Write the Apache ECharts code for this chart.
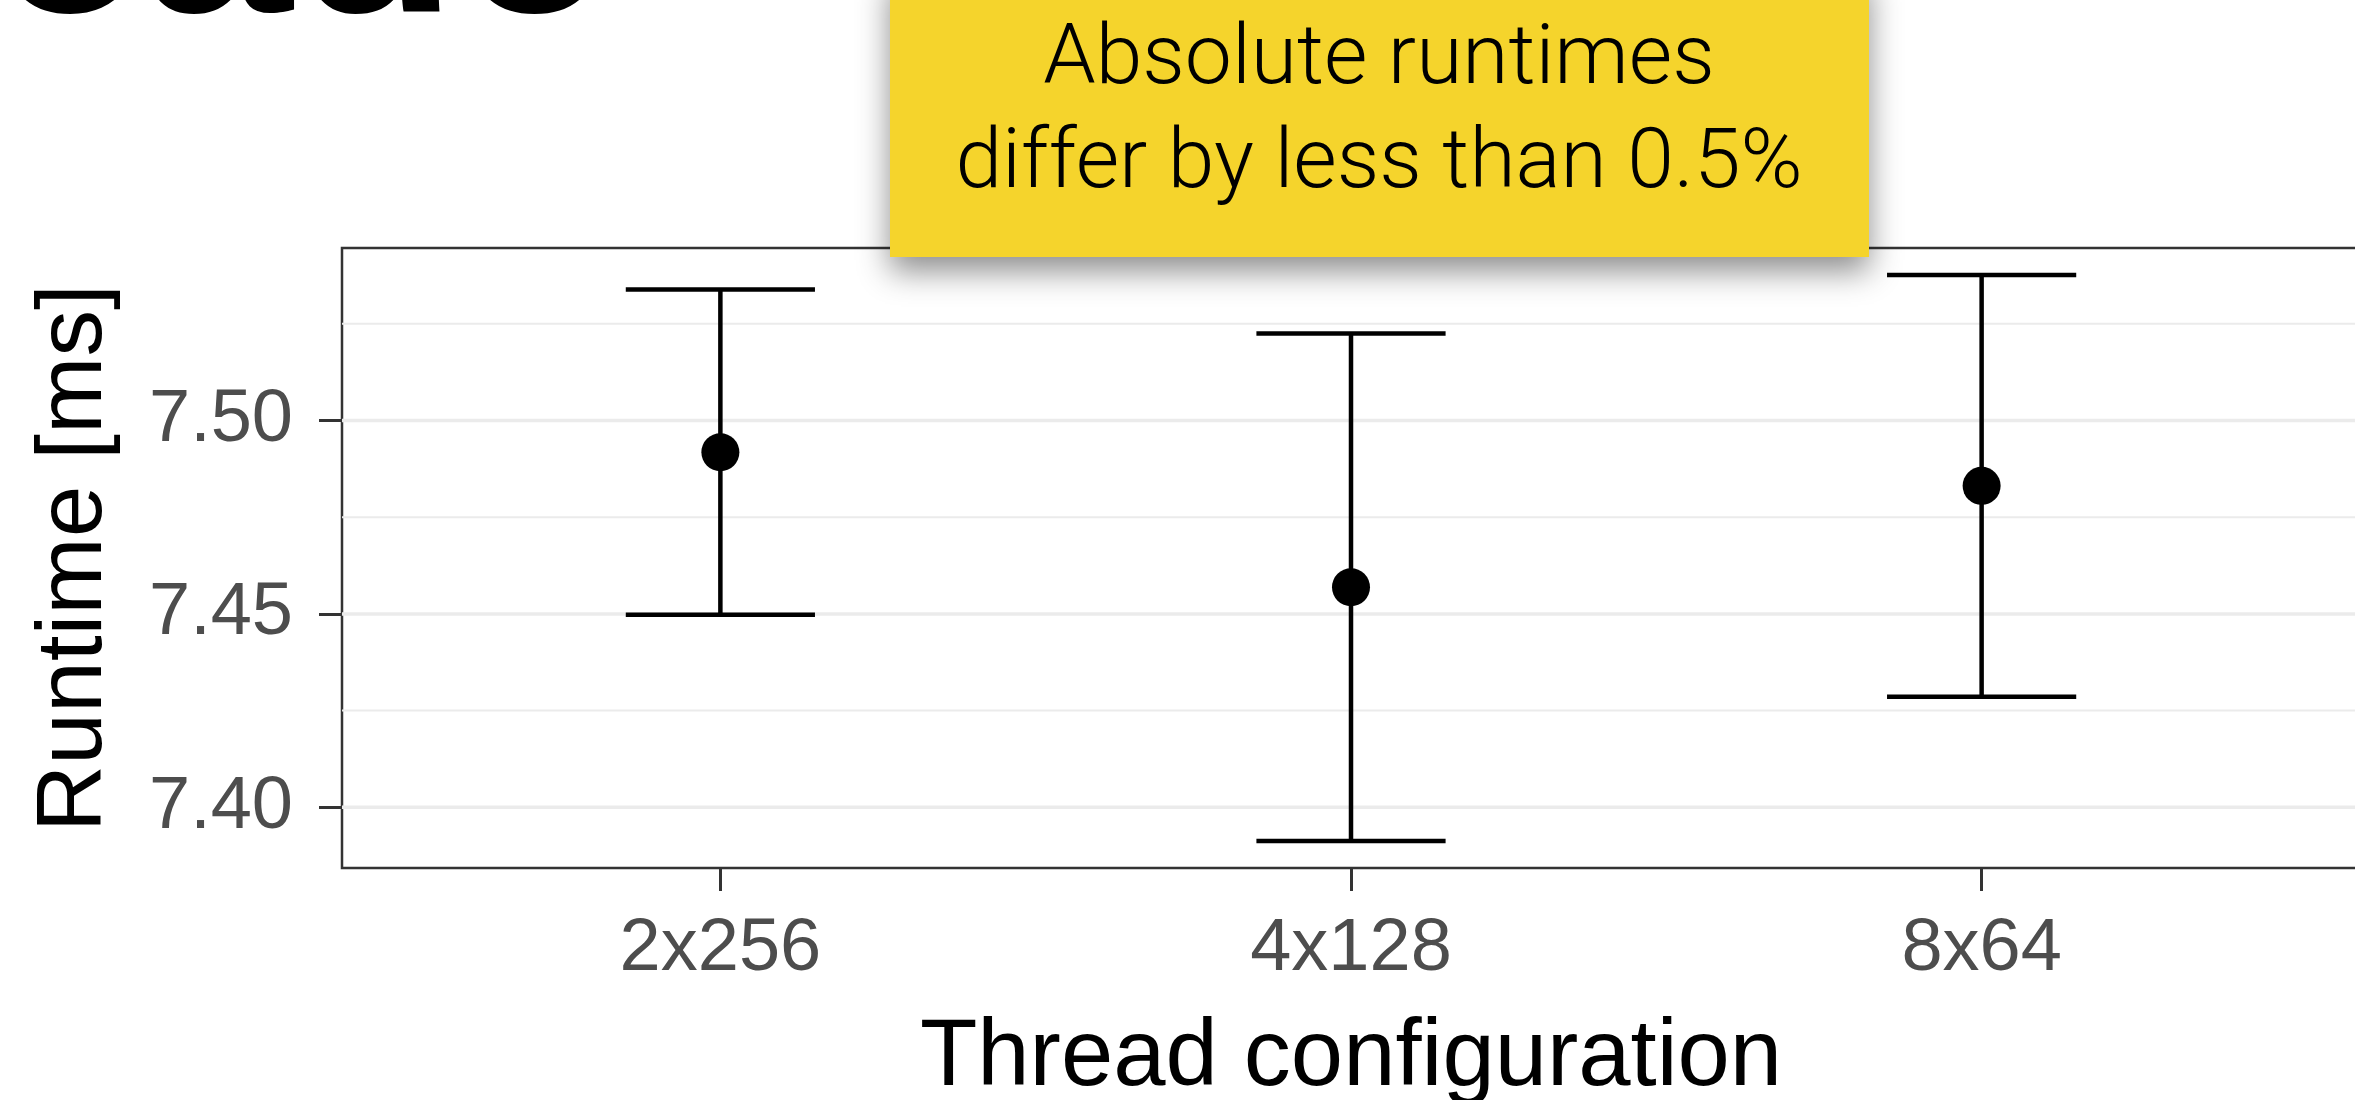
<!DOCTYPE html>
<html>
<head>
<meta charset="utf-8">
<script src="https://cdn.jsdelivr.net/npm/echarts@6/dist/echarts.min.js"></script>
<style>
    html, body { margin: 0; padding: 0; background: #fff; }
    #chart { width: 2355px; height: 1100px; }
</style>
</head>
<body>
<div id="chart"></div>
<script>
    // data
    var categories = ['2x256', '4x128', '8x64'];
    var meanRuntime = [7.4918, 7.4569, 7.4831];
    var lowerBound = [7.4498, 7.3913, 7.4286];
    var upperBound = [7.5339, 7.5225, 7.5376];
    var yTicks = [7.40, 7.45, 7.50];
    var yMinorTicks = [7.425, 7.475, 7.525];
    var xTicks = [1, 2, 3];

    var chart = echarts.init(document.getElementById('chart'));

    var points = [];
    var bars = [];
    for (var i = 0; i < categories.length; i++) {
        points.push([i + 1, meanRuntime[i]]);
        bars.push([i + 1, lowerBound[i], upperBound[i]]);
    }
    var gridLines = [];
    yTicks.forEach(function (v) { gridLines.push([v, 3.5]); });
    yMinorTicks.forEach(function (v) { gridLines.push([v, 2]); });

    var font = 'Liberation Sans';

    var option = {
        backgroundColor: '#fff',
        animation: false,
        grid: {
            left: 342,
            right: -5,
            top: 248,
            bottom: 232,
            outerBoundsMode: 'none',
            containLabel: false,
            show: true,
            borderColor: '#333',
            borderWidth: 2.5,
            backgroundColor: 'transparent'
        },
        xAxis: {
            type: 'value',
            min: 0.4,
            max: 3.6,
            name: 'Thread configuration',
            nameLocation: 'middle',
            nameGap: 144,
            nameTextStyle: { color: '#000', fontSize: 94, fontFamily: font },
            axisLine: { show: false },
            splitLine: { show: false },
            axisTick: {
                show: true,
                length: 23,
                customValues: xTicks,
                lineStyle: { color: '#333', width: 3 }
            },
            axisLabel: {
                customValues: xTicks,
                margin: 45,
                color: '#4d4d4d',
                fontSize: 74,
                fontFamily: font,
                formatter: function (v) { return categories[Math.round(v) - 1]; }
            }
        },
        yAxis: {
            type: 'value',
            min: 7.3843,
            max: 7.5446,
            name: 'Runtime [ms]',
            nameLocation: 'middle',
            nameGap: 220,
            nameTextStyle: { color: '#000', fontSize: 93, fontFamily: font },
            axisLine: { show: false },
            splitLine: { show: false },
            axisTick: {
                show: true,
                length: 23,
                customValues: yTicks,
                lineStyle: { color: '#333', width: 3 }
            },
            axisLabel: {
                customValues: yTicks,
                margin: 49,
                color: '#4d4d4d',
                fontSize: 74,
                fontFamily: font,
                formatter: function (v) { return v.toFixed(2); }
            }
        },
        graphic: [
            {
                // bottom of the slide heading, cut off by the page top
                type: 'text',
                z: 100,
                style: {
                    x: -8,
                    y: 72,
                    text: 'cade',
                    fontSize: 270,
                    fontWeight: 'bold',
                    fontFamily: font,
                    fill: '#000',
                    textAlign: 'left',
                    textVerticalAlign: 'bottom'
                }
            },
            {
                type: 'rect',
                z: 100,
                shape: { x: 890, y: -30, width: 979, height: 287 },
                style: {
                    fill: '#F5D42C',
                    shadowBlur: 30,
                    shadowOffsetY: 14,
                    shadowColor: 'rgba(0,0,0,0.45)'
                }
            },
            {
                type: 'text',
                z: 101,
                style: {
                    x: 1379,
                    y: 62,
                    text: 'Absolute runtimes',
                    font: '300 84px Roboto',
                    fill: '#000',
                    textAlign: 'center',
                    textVerticalAlign: 'middle'
                }
            },
            {
                type: 'text',
                z: 101,
                style: {
                    x: 1379,
                    y: 166,
                    text: 'differ by less than 0.5%',
                    font: '300 84px Roboto',
                    fill: '#000',
                    textAlign: 'center',
                    textVerticalAlign: 'middle'
                }
            }
        ],
        series: [
            {
                // background gridlines
                type: 'custom',
                z: 0,
                silent: true,
                data: gridLines,
                renderItem: function (params, api) {
                    var v = api.value(0);
                    var a = api.coord([0.4, v]);
                    var b = api.coord([3.6, v]);
                    return {
                        type: 'line',
                        shape: { x1: a[0], y1: a[1], x2: b[0], y2: b[1] },
                        style: { stroke: '#ebebeb', lineWidth: api.value(1) }
                    };
                }
            },
            {
                // error bars
                type: 'custom',
                z: 2,
                data: bars,
                renderItem: function (params, api) {
                    var x = api.value(0);
                    var lo = api.coord([x, api.value(1)]);
                    var hi = api.coord([x, api.value(2)]);
                    var loL = api.coord([x - 0.15, api.value(1)]);
                    var loR = api.coord([x + 0.15, api.value(1)]);
                    var hiL = api.coord([x - 0.15, api.value(2)]);
                    var hiR = api.coord([x + 0.15, api.value(2)]);
                    var st = { stroke: '#000', lineWidth: 4.5 };
                    return {
                        type: 'group',
                        children: [
                            { type: 'line', shape: { x1: lo[0], y1: lo[1], x2: hi[0], y2: hi[1] }, style: st },
                            { type: 'line', shape: { x1: loL[0], y1: loL[1], x2: loR[0], y2: loR[1] }, style: st },
                            { type: 'line', shape: { x1: hiL[0], y1: hiL[1], x2: hiR[0], y2: hiR[1] }, style: st }
                        ]
                    };
                }
            },
            {
                type: 'scatter',
                z: 3,
                symbol: 'circle',
                symbolSize: 38,
                itemStyle: { color: '#000', opacity: 1 },
                data: points
            }
        ]
    };
    chart.setOption(option);
</script>
</body>
</html>
